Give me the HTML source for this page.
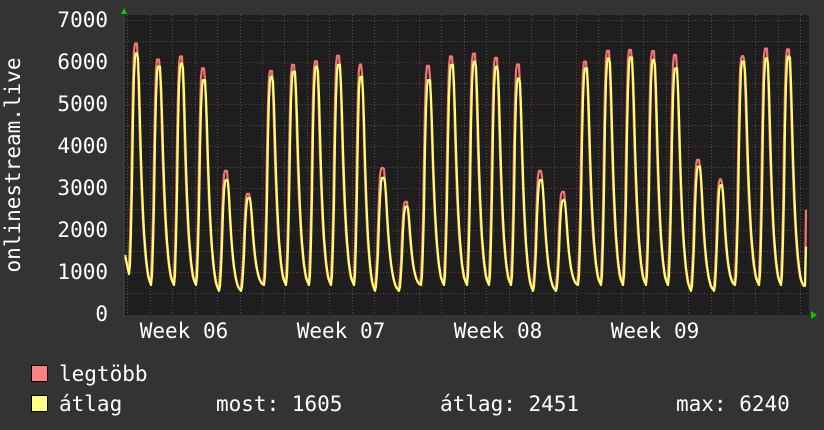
<!DOCTYPE html>
<html><head><meta charset="utf-8"><style>
html,body{margin:0;padding:0;background:#333333;}
svg{display:block;}
text{font-family:"DejaVu Sans Mono","Liberation Mono",monospace;fill:#fff;font-size:21px;}
</style></head><body>
<svg id="s" width="824" height="430" xmlns="http://www.w3.org/2000/svg">
<rect width="824" height="430" fill="#333333"/>
<rect x="124" y="15" width="685" height="300" fill="#1e1e1e"/>
<g id="grid"></g>
<g id="data"></g>
<line x1="124" y1="12" x2="124" y2="318" stroke="#444" stroke-width="1"/>
<polygon points="121,14 127,14 124,8" fill="#00cc00"/>
<polygon points="811,311 811,319 817,315" fill="#00cc00"/>
<g text-anchor="end">
<text x="108" y="27">7000</text>
<text x="108" y="69">6000</text>
<text x="108" y="111">5000</text>
<text x="108" y="153">4000</text>
<text x="108" y="195">3000</text>
<text x="108" y="237">2000</text>
<text x="108" y="279">1000</text>
<text x="108" y="321">0</text>
</g>
<text transform="translate(20,165) rotate(-90)" text-anchor="middle">onlinestream.live</text>
<g text-anchor="middle">
<text x="184" y="338">Week 06</text>
<text x="341" y="338">Week 07</text>
<text x="498" y="338">Week 08</text>
<text x="655" y="338">Week 09</text>
</g>
<rect x="31.5" y="365.5" width="16" height="16" fill="#ff8080" stroke="#000"/>
<rect x="31.5" y="395.5" width="16" height="16" fill="#ffff80" stroke="#000"/>
<text x="59" y="381">legtöbb</text>
<text x="59" y="411">átlag</text>
<text x="216" y="411">most: 1605</text>
<text x="440" y="411">átlag: 2451</text>
<text x="676" y="411">max: 6240</text>
</svg>
<script>
var NS="http://www.w3.org/2000/svg";
var g=document.getElementById("grid");
function ln(x1,y1,x2,y2,c){var l=document.createElementNS(NS,"line");l.setAttribute("x1",x1);l.setAttribute("y1",y1);l.setAttribute("x2",x2);l.setAttribute("y2",y2);l.setAttribute("stroke",c);l.setAttribute("stroke-width","1");l.setAttribute("stroke-dasharray","1,2");g.appendChild(l);}
function Y(v){return 314-v*0.042;}
for(var v=500;v<=7000;v+=500){var y=Math.round(Y(v))+0.5;ln(125,y,809,y,(v%1000==0)?"#7a3535":"#505050");}
for(var k=0;k<31;k++){var x=Math.round(127.4+22.43*k)+0.5;if(x>808)break;ln(x,15,x,315,(k==6||k==13||k==20)?"#7a3535":"#505050");}
var P=[[137,6440,6210],[159,6060,5890],[182,6130,5970],[204,5850,5570],[227,3410,3190],[249,2860,2760],
[272,5790,5650],[294,5930,5770],[317,6020,5890],[339,6150,5930],[362,5940,5650],[383,3480,3240],[407,2670,2560],
[429,5910,5570],[452,6130,5930],[475,6200,6010],[497,6100,5890],[519,5940,5610],[541,3410,3190],[564,2910,2710],
[586,6010,5850],[609,6270,6090],[631,6290,6110],[654,6260,6050],[676,6170,5850],[699,3670,3510],[722,3210,3070],
[743,6140,6010],[767,6320,6090],[789,6300,6130]];
var prof=[[0,0],[0.05,0.05],[0.12,0.3],[0.18,0.7],[0.24,0.95],[0.29,1],[0.4,1],[0.46,0.85],[0.53,0.58],[0.6,0.38],[0.68,0.22],[0.78,0.1],[0.88,0.03],[1,0]];
function pf(t){for(var i=1;i<prof.length;i++){if(t<=prof[i][0]){var a=prof[i-1],b=prof[i];return a[1]+(b[1]-a[1])*(t-a[0])/(b[0]-a[0]);}}return 0;}
function minFor(i){var p=P[i];if(!p)return 700;return p[1]<4000?580:720;}
function val(x,idx){
 var mins=P.map(function(p){return p[0]-8;});
 var i=-1;for(var j=0;j<mins.length;j++){if(x>=mins[j])i=j;}
 if(i<0){var t=(x-125)/(129-125);return idx==1?1500-500*t:1400-450*t;}
 var s=mins[i],e=(i+1<mins.length)?mins[i+1]:s+22.4;
 var t=(x-s)/(e-s);
 var peak=P[i][idx];
 var m0=(i==0)?(idx==1?1000:950):minFor(i)-(idx==2?30:0);
 var m1=minFor(i+1)-(idx==2?30:0);
 var base=m0+(m1-m0)*t;
 if(t>1)t=1;
 return base+(peak-base)*pf(t);
}
function path(idx,off){var d="";for(var x=125;x<=806;x++){var v=val(x+off,idx);if(x>=806)v=idx==1?2480:1605;d+=(x==125?"M":"L")+x+","+Y(v).toFixed(1);}return d;}
var dg=document.getElementById("data");
[[1,"#f47474",0.7],[2,"#ffff70",0]].forEach(function(a){var p=document.createElementNS(NS,"path");p.setAttribute("d",path(a[0],a[2]));p.setAttribute("fill","none");p.setAttribute("stroke",a[1]);p.setAttribute("stroke-width","2.2");p.setAttribute("stroke-linejoin","round");dg.appendChild(p);});
</script>
</body></html>
